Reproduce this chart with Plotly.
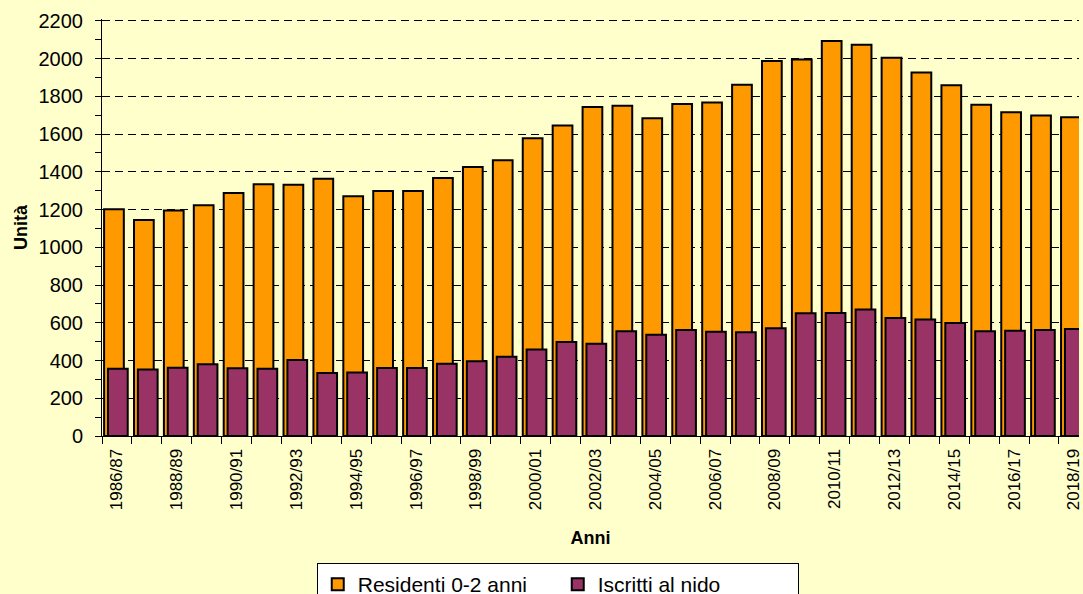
import plotly.graph_objects as go

# anni scolastici
anni = [
    '1986/87', '1987/88', '1988/89', '1989/90', '1990/91', '1991/92',
    '1992/93', '1993/94', '1994/95', '1995/96', '1996/97', '1997/98',
    '1998/99', '1999/00', '2000/01', '2001/02', '2002/03', '2003/04',
    '2004/05', '2005/06', '2006/07', '2007/08', '2008/09', '2009/10',
    '2010/11', '2011/12', '2012/13', '2013/14', '2014/15', '2015/16',
    '2016/17', '2017/18', '2018/19',
]

residenti = [
    1202, 1145, 1195, 1223, 1288, 1334, 1331, 1363, 1271, 1298, 1299,
    1368, 1425, 1462, 1578, 1645, 1743, 1750, 1684, 1760, 1767, 1862,
    1987, 1995, 2094, 2073, 2004, 1926, 1859, 1755, 1716, 1698, 1689,
]

iscritti = [
    357, 353, 362, 380, 359, 357, 403, 334, 336, 361, 360, 383, 396,
    420, 458, 498, 489, 555, 536, 562, 553, 550, 571, 650, 652, 670,
    626, 617, 599, 555, 558, 562, 567,
]

tick_text = [a if i % 2 == 0 else '' for i, a in enumerate(anni)]

BG = '#FFFFCC'
FONT = 'Liberation Sans, Arial, sans-serif'

fig = go.Figure()
fig.add_trace(go.Bar(
    x=anni, y=residenti, name='Residenti 0-2 anni',
    marker=dict(color='#FF9900', line=dict(color='black', width=2)),
    width=0.66, offset=-0.43,
))
fig.add_trace(go.Bar(
    x=anni, y=iscritti, name='Iscritti al nido',
    marker=dict(color='#993366', line=dict(color='black', width=2)),
    width=0.66, offset=-0.30,
))

fig.update_layout(
    width=1083, height=594,
    barmode='overlay',
    paper_bgcolor=BG, plot_bgcolor=BG,
    font=dict(family=FONT, color='black'),
    margin=dict(l=102, r=0, t=19, b=158),
    legend=dict(
        orientation='h', xref='container', yref='container',
        x=0.515, xanchor='center', y=0.052, yanchor='top',
        bgcolor='white', bordercolor='black', borderwidth=1,
        font=dict(size=21, family=FONT), entrywidth=195,
    ),
)

fig.update_xaxes(
    type='category', range=[-0.5, 32.17],
    tickvals=anni, ticktext=tick_text, tickangle=-90,
    tickson='boundaries', ticks='outside', ticklen=7, tickcolor='black',
    showline=True, linecolor='black', linewidth=1,
    showgrid=False, tickfont=dict(size=17), ticklabelstandoff=5,
    title=dict(text='<b>Anni</b>', font=dict(size=18), standoff=22),
)
fig.update_yaxes(
    range=[0, 2210], tickvals=list(range(0, 2201, 200)),
    ticks='outside', ticklen=6, tickcolor='black',
    showline=True, linecolor='black', linewidth=1,
    showgrid=True, gridcolor='black', griddash='8px,5px', gridwidth=1,
    zeroline=False, tickfont=dict(size=20), ticklabelstandoff=8,
    minor=dict(tickvals=list(range(100, 2200, 200)), ticks='outside', ticklen=6,
               tickcolor='black', showgrid=False),
    title=dict(text='<b>Unità</b>', font=dict(size=18), standoff=6),
)

fig.write_html('out.html', config={'displayModeBar': False},
               post_script="document.body.style.margin='0';")
